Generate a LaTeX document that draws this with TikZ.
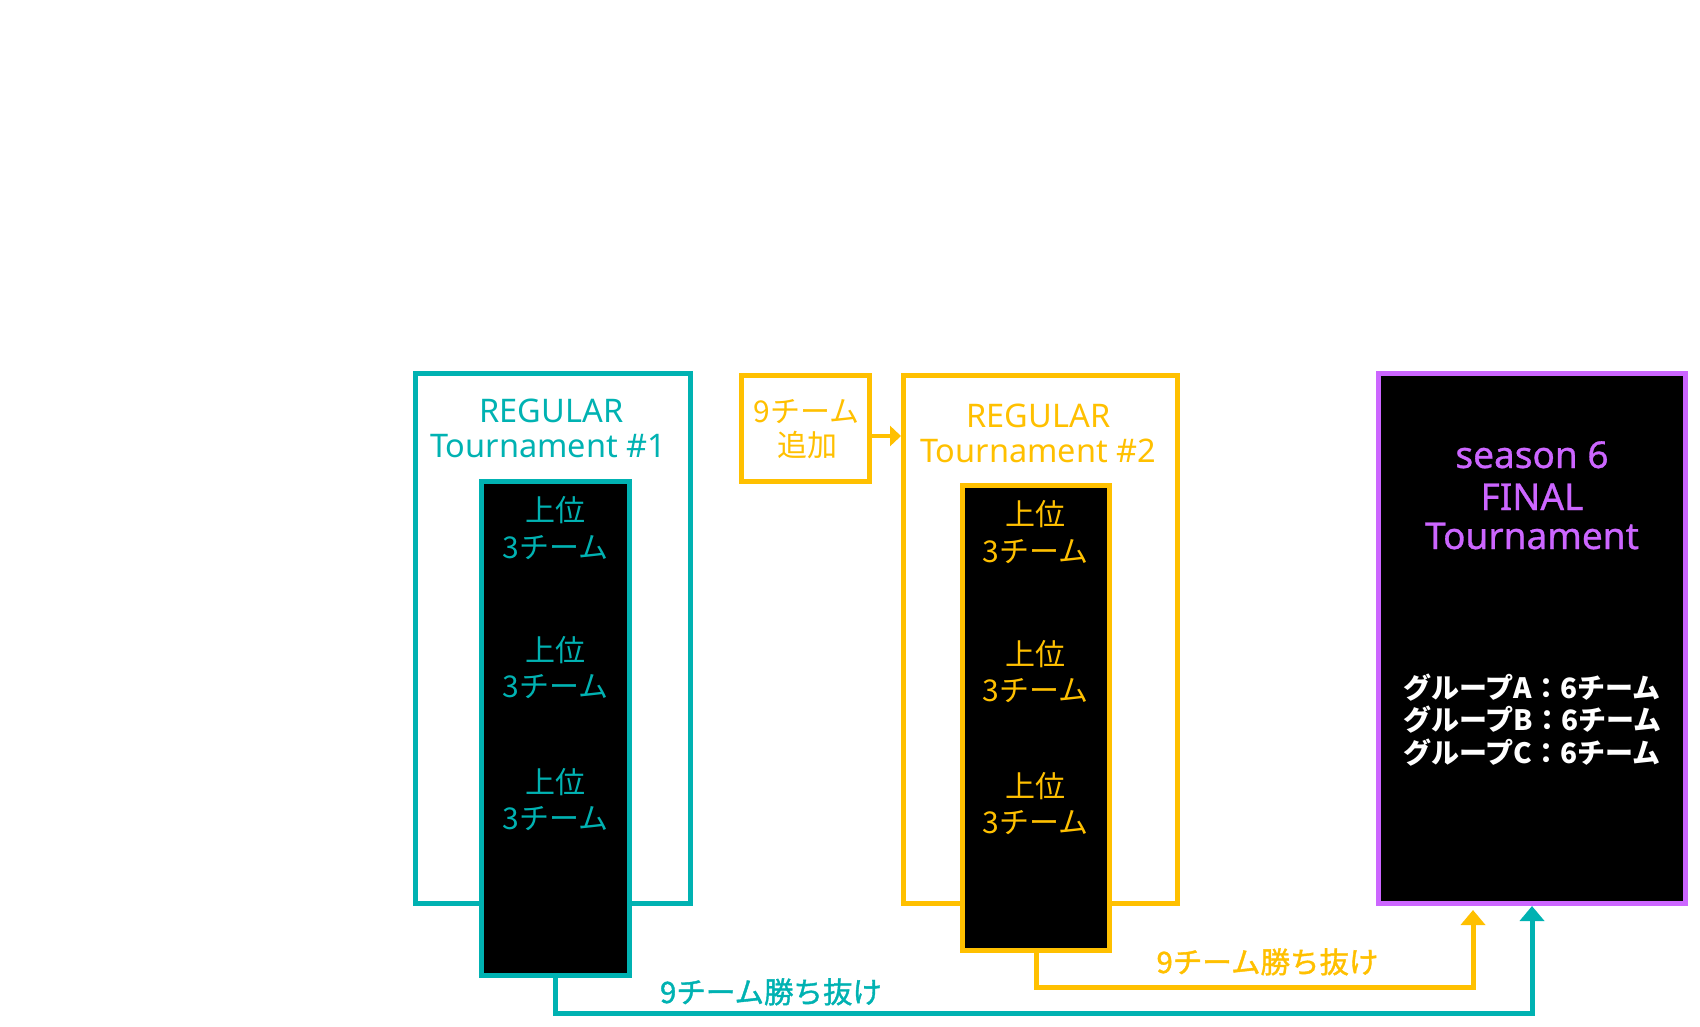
\documentclass[tikz,border=0pt]{standalone}
\usepackage{fontspec}
\setmainfont{Noto Sans}
\newfontfamily\jp{Noto Sans CJK JP}
\newfontfamily\jpfb{Noto Sans CJK JP}[FakeBold=1.2]
\newfontfamily\latm{Noto Sans}[FakeBold=0.8]
\usetikzlibrary{arrows.meta}
\definecolor{tl}{HTML}{00B2B2}
\definecolor{yl}{HTML}{FFC000}
\definecolor{pl}{HTML}{CC66FF}
\begin{document}
\begin{tikzpicture}[x=1pt,y=-1pt,
  box/.style={draw, line width=5pt, inner sep=0pt, rectangle},
  lat/.style={anchor=base, inner sep=0pt, font=\fontsize{32.5}{36}\selectfont},
  fint/.style={anchor=base, inner sep=0pt, text=pl, font=\latm\fontsize{37}{40}\selectfont},
  jpt/.style={anchor=base, inner sep=0pt, font=\jp\fontsize{30}{34}\selectfont},
  grp/.style={anchor=base west, inner sep=0pt, text=white, font=\jp\bfseries\fontsize{28}{32}\selectfont},
  lab/.style={anchor=base, inner sep=0pt, font=\jpfb\fontsize{29.5}{32}\selectfont},
  conn/.style={line width=5pt, -{Triangle[width=24pt,length=15pt]}}
]
\fill[white] (0,0) rectangle (1700,1027);
\useasboundingbox (0,0) rectangle (1700,1027);

% boxes
\node[box, draw=tl, fill=white, minimum width=275pt, minimum height=530pt] (to) at (553,638.5) {};
\node[box, draw=tl, fill=black, minimum width=148pt, minimum height=494pt] (tb) at (555.5,728.5) {};
\node[box, draw=yl, fill=white, minimum width=128pt, minimum height=106pt] (sm) at (805.5,428.5) {};
\node[box, draw=yl, fill=white, minimum width=274pt, minimum height=528pt] (yo) at (1040.5,639.5) {};
\node[box, draw=yl, fill=black, minimum width=147pt, minimum height=465pt] (yb) at (1036,718) {};
\node[box, draw=pl, fill=black, minimum width=307pt, minimum height=530pt] (fin) at (1532,638.5) {};

% texts teal
\node[lat, text=tl] (t1a) at (551.5,422) {REGULAR};
\node[lat, text=tl] (t1b) at (548,457) {Tournament \#1};
\node[jpt, text=tl] (t1u1) at (555.5,521) {上位};
\node[jpt, text=tl] (t1c1) at (555.5,558) {3チーム};
\node[jpt, text=tl] (t1u2) at (555.5,661) {上位};
\node[jpt, text=tl] (t1c2) at (555.5,697) {3チーム};
\node[jpt, text=tl] (t1u3) at (555.5,793) {上位};
\node[jpt, text=tl] (t1c3) at (555.5,829) {3チーム};

% texts yellow
\node[jpt, text=yl] (s1) at (806.5,422) {9チーム};
\node[jpt, text=yl] (s2) at (807.5,456) {追加};
\node[lat, text=yl] (t2a) at (1038.5,427) {REGULAR};
\node[lat, text=yl] (t2b) at (1038,462) {Tournament \#2};
\node[jpt, text=yl] (t2u1) at (1035.5,525) {上位};
\node[jpt, text=yl] (t2c1) at (1035.5,562) {3チーム};
\node[jpt, text=yl] (t2u2) at (1035.5,665) {上位};
\node[jpt, text=yl] (t2c2) at (1035.5,701) {3チーム};
\node[jpt, text=yl] (t2u3) at (1035.5,797) {上位};
\node[jpt, text=yl] (t2c3) at (1035.5,833) {3チーム};

% final
\node[fint] (f1) at (1532,468) {season 6};
\node[fint] (f2) at (1532,510) {FINAL};
\node[fint] (f3) at (1532,549) {Tournament};
\node[grp] (g1) at (1403,698) {グループA：6チーム};
\node[grp] (g2) at (1403,730) {グループB：6チーム};
\node[grp] (g3) at (1403,763) {グループC：6チーム};

% connectors
\coordinate (arr) at ([yshift=-7.5pt]sm.east);
\draw[yl, line width=4.5pt, -{Triangle[width=20pt,length=11pt]}] (arr) -- (arr -| yo.west);

\coordinate (tc) at (1532,1013);
\draw[tl, conn] (tb.south) |- (tc) -- (fin.south);

\coordinate (yc) at (1473,987.5);
\coordinate (ytip) at (1473,910);
\draw[yl, conn] (yb.south) |- (yc) -- (ytip);

% labels
\node[lab, text=tl] (l1) at (771,1003) {9チーム勝ち抜け};
\node[lab, text=yl] (l2) at (1267.5,973) {9チーム勝ち抜け};
\end{tikzpicture}
\end{document}
